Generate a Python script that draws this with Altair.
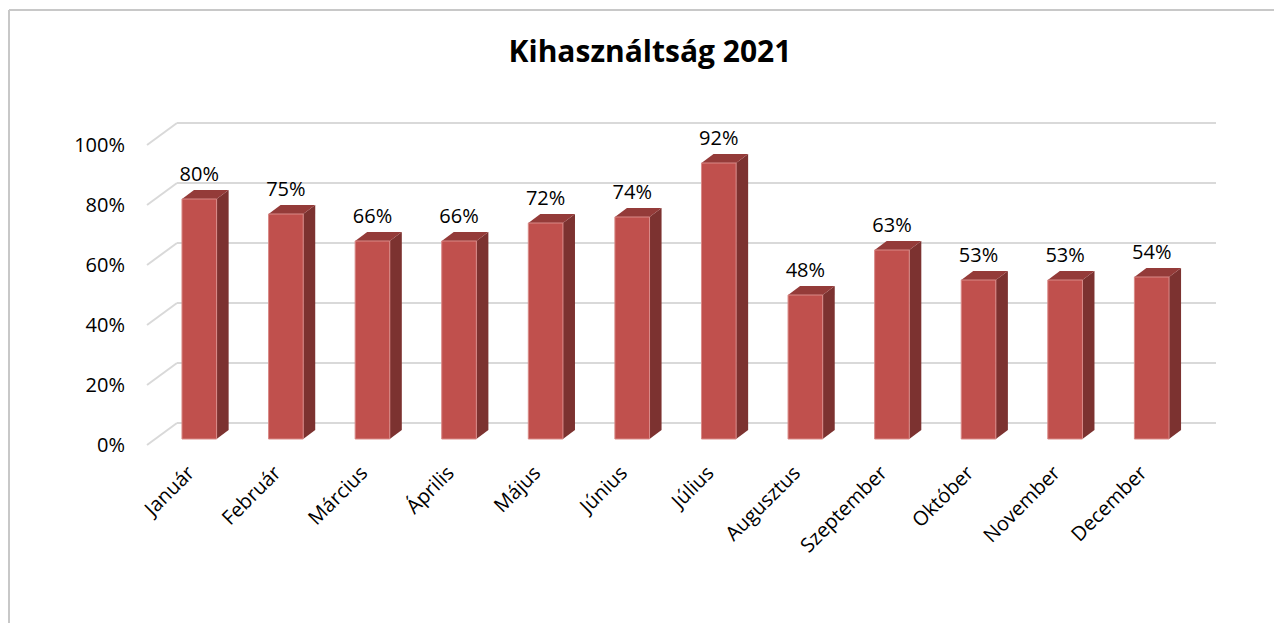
import altair as alt
import pandas as pd

# ---- data ----
months = ["Január", "Február", "Március", "Április", "Május", "Június",
          "Július", "Augusztus", "Szeptember", "Október", "November", "December"]
values = [0.80, 0.75, 0.66, 0.66, 0.72, 0.74, 0.92, 0.48, 0.63, 0.53, 0.53, 0.54]
y_ticks = [0.0, 0.2, 0.4, 0.6, 0.8, 1.0]
title_text = "Kihasználtság 2021"

# ---- style constants ----
FRONT = "#C0504D"
SIDE = "#7C3230"
TOP = "#943B39"
GRID = "#D9D9D9"
FONT = "Open Sans"
BAR_W = 0.40          # bar width as fraction of a category step
DEPTH_X = 0.139       # bar depth, x (in category units)
DEPTH_Y = 0.030       # bar depth, y (in value units)
W, H = 1039, 300

n = len(months)
bars = pd.DataFrame({
    "month": months,
    "v": values,
    "xc": [i + 0.5 for i in range(n)],
})
bars["xl"] = bars["xc"] - BAR_W / 2
bars["xr"] = bars["xc"] + BAR_W / 2
bars["zero"] = 0.0

side_rows, top_rows = [], []
for _, r in bars.iterrows():
    side_rows.append({"month": r.month, "x": r.xr, "lo": 0.0, "hi": r.v})
    side_rows.append({"month": r.month, "x": r.xr + DEPTH_X, "lo": DEPTH_Y, "hi": r.v + DEPTH_Y})
    top_rows.append({"month": r.month, "y": r.v, "a": r.xl, "b": r.xr})
    top_rows.append({"month": r.month, "y": r.v + DEPTH_Y, "a": r.xl + DEPTH_X, "b": r.xr + DEPTH_X})
side = pd.DataFrame(side_rows)
top = pd.DataFrame(top_rows)

grid = pd.DataFrame({"tick": y_ticks, "x0": [0.0] * len(y_ticks), "x1": [float(n)] * len(y_ticks)})

xs = alt.Scale(domain=[0, n], nice=False, zero=False)
ys = alt.Scale(domain=[0, 1], nice=False)

grid_diag = alt.Chart(grid).mark_rule(color=GRID, strokeWidth=2, x2Offset=30, y2Offset=-22).encode(
    x=alt.X("x0:Q", scale=xs, axis=None), x2="x0:Q",
    y=alt.Y("tick:Q", scale=ys, axis=None), y2="tick:Q")
grid_back = alt.Chart(grid).mark_rule(color=GRID, strokeWidth=2, xOffset=30, x2Offset=30, yOffset=-22).encode(
    x=alt.X("x0:Q", scale=xs, axis=None), x2="x1:Q",
    y=alt.Y("tick:Q", scale=ys, axis=None))
tick_labels = alt.Chart(grid).mark_text(font=FONT, fontSize=20, color="black", align="right",
                                        baseline="middle", xOffset=-22, yOffset=1).encode(
    x=alt.X("x0:Q", scale=xs, axis=None),
    y=alt.Y("tick:Q", scale=ys, axis=None),
    text=alt.Text("tick:Q", format=".0%"))

side_l = alt.Chart(side).mark_area(orient="vertical", color=SIDE, xOffset=9, yOffset=-6, y2Offset=-6).encode(
    x=alt.X("x:Q", scale=xs, axis=None),
    y=alt.Y("hi:Q", scale=ys, axis=None, stack=None), y2="lo:Q",
    detail="month:N")
top_l = alt.Chart(top).mark_area(orient="horizontal", color=TOP, xOffset=9, x2Offset=9, yOffset=-6).encode(
    y=alt.Y("y:Q", scale=ys, axis=None),
    x=alt.X("a:Q", scale=xs, axis=None, stack=None), x2="b:Q",
    detail="month:N")
front_l = alt.Chart(bars).mark_rect(color=FRONT, stroke="#D98A88", strokeWidth=1,
                                    xOffset=9, x2Offset=9, yOffset=-6, y2Offset=-6).encode(
    x=alt.X("xl:Q", scale=xs, axis=None), x2="xr:Q",
    y=alt.Y("v:Q", scale=ys, axis=None), y2="zero:Q")

val_labels = alt.Chart(bars).mark_text(font=FONT, fontSize=20, color="black", align="center",
                                       baseline="alphabetic", xOffset=9, yOffset=-24).encode(
    x=alt.X("xc:Q", scale=xs, axis=None),
    y=alt.Y("v:Q", scale=ys, axis=None),
    text=alt.Text("v:Q", format=".0%"))

month_labels = alt.Chart(bars).mark_text(font=FONT, fontSize=20, color="black", align="right",
                                         baseline="middle", angle=315, xOffset=1, yOffset=25).encode(
    x=alt.X("xc:Q", scale=xs, axis=None),
    y=alt.Y("zero:Q", scale=ys, axis=None),
    text="month:N")

title_l = alt.Chart(pd.DataFrame({"t": [title_text]})).mark_text(
    font=FONT, fontSize=30, fontWeight="bold", color="black", align="center", baseline="alphabetic"
).encode(x=alt.value(503), y=alt.value(-83), text="t:N")

frame_df = pd.DataFrame({"k": [0]})
frame_left = alt.Chart(frame_df).mark_rule(color="#C8C8C8", strokeWidth=2).encode(
    x=alt.value(-138), y=alt.value(-135), y2=alt.value(480))
frame_top = alt.Chart(frame_df).mark_rule(color="#C8C8C8", strokeWidth=2).encode(
    x=alt.value(-138), x2=alt.value(W + 88), y=alt.value(-135))

chart = alt.layer(
    frame_left, frame_top, grid_diag, grid_back, tick_labels,
    side_l, top_l, front_l, val_labels, month_labels, title_l
).properties(
    width=W, height=H,
    autosize="none",
    padding={"left": 139, "top": 137, "right": 88, "bottom": 178},
).configure(background="white").configure_view(stroke=None)

chart.save("out.html", embed_options={"renderer": "svg", "actions": False})
